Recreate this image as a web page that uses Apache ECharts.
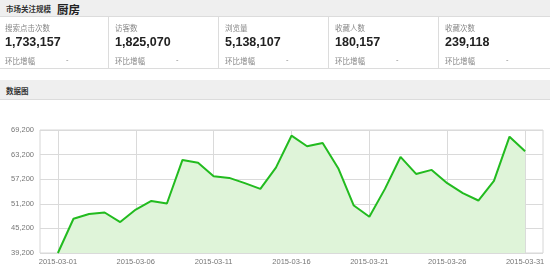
<!DOCTYPE html>
<html><head><meta charset="utf-8">
<script src="https://cdn.jsdelivr.net/npm/echarts@6/dist/echarts.min.js"></script>
<style>
html,body{margin:0;padding:0;width:550px;height:274px;overflow:hidden;background:#fff;font-family:"Liberation Sans","Noto Sans CJK SC",Arial,sans-serif;}
#chart{position:absolute;left:0;top:0;width:550px;height:274px;}
.band{position:absolute;left:0;width:550px;background:#efefef;border-bottom:1px solid #dcdcdc;box-sizing:border-box;}
.t1{position:absolute;left:6px;font-size:7.5px;font-weight:bold;color:#333;font-family:"Noto Sans CJK SC",sans-serif;}
.t2{position:absolute;left:57px;top:1px;font-size:11.5px;font-weight:bold;color:#222;font-family:"Noto Sans CJK SC",sans-serif;}
.box{position:absolute;top:17px;height:52px;width:110px;border-right:1px solid #dcdcdc;box-sizing:border-box;}
.lab{position:absolute;left:6px;top:5px;font-size:7.5px;color:#888;font-family:"Noto Sans CJK SC",sans-serif;}
.num{position:absolute;left:6px;top:18px;font-size:12.5px;font-weight:bold;color:#222;font-family:"Liberation Sans",Arial,sans-serif;}
.hb{position:absolute;left:6px;top:38px;font-size:7.5px;color:#888;font-family:"Noto Sans CJK SC",sans-serif;}
.dash{position:absolute;left:67px;top:38px;font-size:7.5px;color:#888;}
#boxline{position:absolute;left:0;top:68px;width:550px;height:1px;background:#dcdcdc;}
</style></head><body>
<div id="chart"></div>
<div class="band" style="top:0;height:17px;"><span class="t1" style="top:3px;">市场关注规模</span><span class="t2">厨房</span></div>
<div id="boxes"></div>
<div id="boxline"></div>
<div class="band" style="top:80px;height:20px;"><span class="t1" style="top:5px;">数据图</span></div>
<script>
const statLabels = ["搜索点击次数", "访客数", "浏览量", "收藏人数", "收藏次数"];
const statValues = ["1,733,157", "1,825,070", "5,138,107", "180,157", "239,118"];
const changeLabel = "环比增幅";

const dates = ["2015-03-01","2015-03-02","2015-03-03","2015-03-04","2015-03-05","2015-03-06","2015-03-07","2015-03-08","2015-03-09","2015-03-10",
"2015-03-11","2015-03-12","2015-03-13","2015-03-14","2015-03-15","2015-03-16","2015-03-17","2015-03-18","2015-03-19","2015-03-20",
"2015-03-21","2015-03-22","2015-03-23","2015-03-24","2015-03-25","2015-03-26","2015-03-27","2015-03-28","2015-03-29","2015-03-30","2015-03-31"];
const values = [39200, 47550, 48700, 49080, 46740, 49800, 51900, 51270, 61900, 61200,
57930, 57520, 56230, 54840, 60030, 67810, 65230, 66040, 59880, 50780,
48030, 54840, 62630, 58490, 59470, 56230, 53800, 52000, 56790, 67570, 64020];
const labelIndices = [0, 5, 10, 15, 20, 25, 30];

// build stat boxes
const boxes = document.getElementById('boxes');
statLabels.forEach((l, i) => {
  const d = document.createElement('div');
  d.className = 'box';
  d.style.left = (i * 110 - 1) + 'px';
  if (i === statLabels.length - 1) d.style.borderRight = 'none';
  d.innerHTML = '<span class="lab">' + l + '</span><span class="num">' + statValues[i] +
    '</span><span class="hb">' + changeLabel + '</span><span class="dash">-</span>';
  boxes.appendChild(d);
});

const chart = echarts.init(document.getElementById('chart'), null, {renderer: 'canvas'});
chart.setOption({
  animation: false,
  grid: {left: 40, right: 7, top: 130, bottom: 21, show: true, borderColor: '#d6d6d6', borderWidth: 1, backgroundColor: 'transparent'},
  xAxis: {
    type: 'value', min: -1.15, max: 31.15,
    axisLine: {show: false},
    axisTick: {show: false, customValues: labelIndices},
    axisLabel: {customValues: labelIndices, formatter: v => dates[Math.round(v)], color: '#777', fontSize: 7.5, margin: 5, fontFamily: 'Liberation Sans'},
    splitLine: {show: true, lineStyle: {color: '#dadada', width: 1}}
  },
  yAxis: {
    type: 'value', min: 39200, max: 69200, interval: 6000,
    axisLine: {show: false}, axisTick: {show: false},
    axisLabel: {color: '#777', fontSize: 7.5, margin: 6, fontFamily: 'Liberation Sans', formatter: v => v.toLocaleString('en-US')},
    splitLine: {show: true, lineStyle: {color: '#dadada', width: 1}}
  },
  series: [{
    type: 'line',
    data: values.map((v, i) => [i, v]),
    showSymbol: false, symbol: 'none',
    lineStyle: {color: '#22bb1f', width: 2},
    itemStyle: {color: '#22bb1f'},
    areaStyle: {color: '#dff4d9', opacity: 1}
  }]
});
</script>
</body></html>
